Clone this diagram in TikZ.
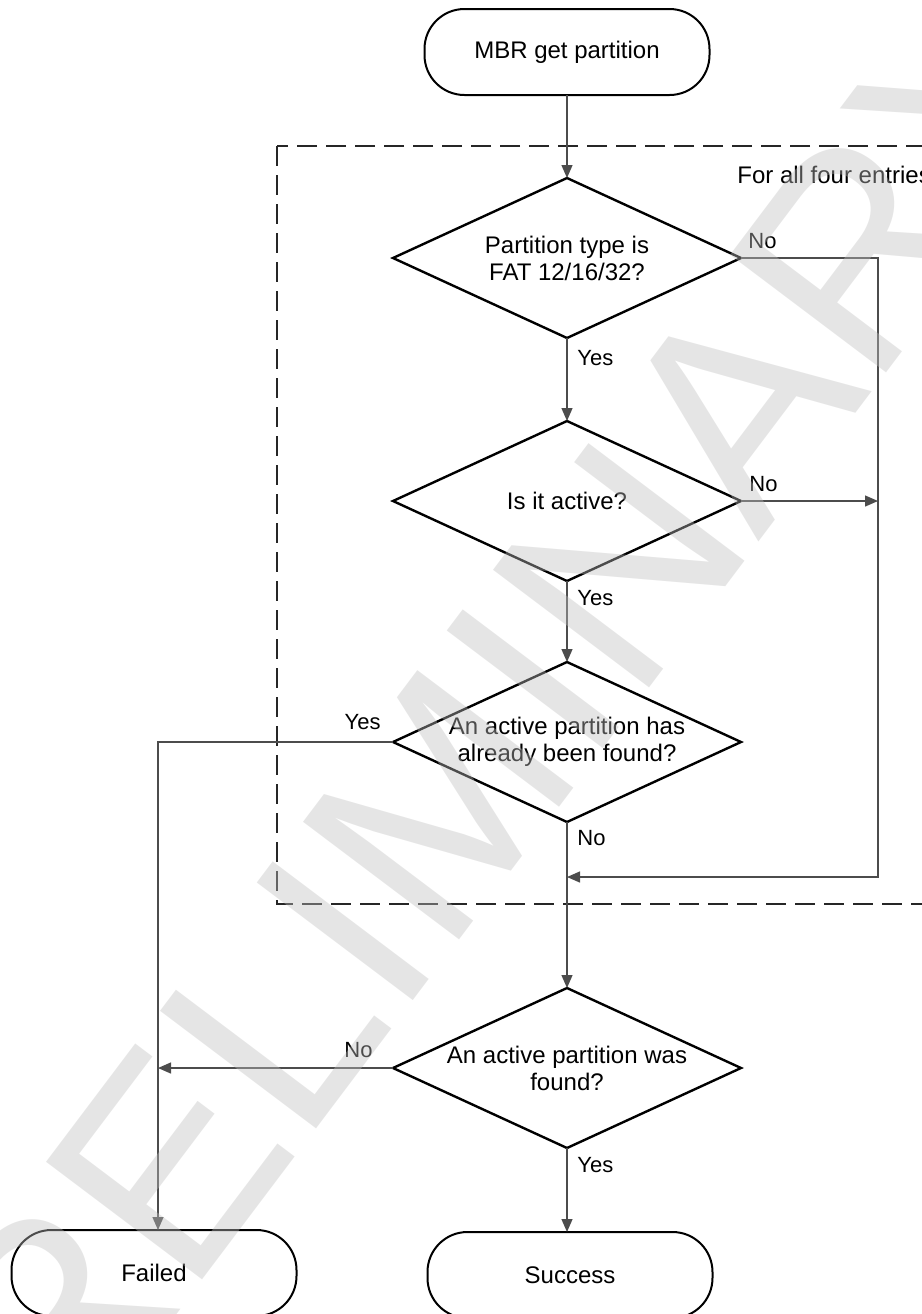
\documentclass[tikz,border=0pt]{standalone}
\usepackage{fontspec}
\setmainfont{Liberation Sans}
\newfontfamily\wmfont{Liberation Sans}
\usetikzlibrary{shapes.geometric,arrows.meta}
\begin{document}
\begin{tikzpicture}[x=0.5pt,y=-0.5pt,
  every node/.style={font=\fontsize{12}{13.5}\selectfont},
  term/.style={draw=black,line width=1pt,rounded corners=20pt,minimum width=142.5pt,minimum height=43pt,inner sep=0pt,outer sep=0pt},
  dia/.style={draw=black,line width=1.2pt,diamond,minimum width=174pt,minimum height=80pt,inner sep=0pt,outer sep=0pt},
  txt/.style={align=center,inner sep=0pt},
  lbl/.style={inner sep=0pt,font=\fontsize{11}{13}\selectfont},
  conn/.style={draw=black!70,line width=0.65pt},
  arr/.style={conn,-{Triangle[length=6.5pt,width=5.5pt]}},
  loopbox/.style={draw=black!85,line width=0.7pt,dash pattern=on 10pt off 4.5pt}
]
\useasboundingbox (0,0) rectangle (922,1314);
\clip (0,0) rectangle (922,1314);

% loop frame
\draw[loopbox] (277,146) rectangle (960,904);
\node[lbl,anchor=west,font=\fontsize{12}{13.5}\selectfont] (loopl) at (737,175) {For all four entries};

% nodes
\node[term] (start) at (567,52) {MBR get partition};
\node[dia] (d1) at (567,258) {};
\node[txt] (d1t) at (d1) {Partition type is\\FAT 12/16/32?};
\node[dia] (d2) at (567,501) {};
\node[txt] (d2t) at (d2) {Is it active?};
\node[dia] (d3) at (567,742) {};
\node[txt] (d3t) at (d3) {An active partition has\\already been found?};
\node[dia] (d4) at (567,1068) {};
\node[txt] (d4t) at (d4) {An active partition was\\found?};
\node[term] (failed) at (154,1273) {Failed};
\node[term] (success) at (570,1275) {Success};

% helper coordinates
\coordinate (rv1) at (878,258);
\coordinate (rv2) at (878,877);
\coordinate (join) at (567,877);
\coordinate (fl) at (158,742);

% connectors
\draw[arr] (start.south) -- (d1.north);
\draw[arr] (d1.south) -- (d2.north);
\draw[arr] (d2.south) -- (d3.north);
\draw[arr] (d3.south) -- (d4.north);
\draw[arr] (d4.south) -- (d4.south |- success.north);
\draw[arr] (d1.east) -- (rv1) -- (rv2) -- (join);
\draw[arr] (d2.east) -- (d2.east -| rv1);
\draw[arr] (d3.west) -- (fl) -- (fl |- failed.north);
\draw[arr] (d4.west) -- (d4.west -| fl);

% labels
\node[lbl,anchor=west] (l1n) at (748,241) {No};
\node[lbl,anchor=west] (l1y) at (577,358) {Yes};
\node[lbl,anchor=west] (l2n) at (749,484) {No};
\node[lbl,anchor=west] (l2y) at (577,598) {Yes};
\node[lbl,anchor=east] (l3y) at (381,722) {Yes};
\node[lbl,anchor=west] (l3n) at (577,838) {No};
\node[lbl,anchor=east] (l4n) at (373,1050) {No};
\node[lbl,anchor=west] (l4y) at (577,1165) {Yes};

% watermark
\node[anchor=base west,rotate=53,inner sep=0pt,text=black!25,text opacity=0.4,font=\wmfont\fontsize{142}{142}\selectfont] (wm) at (-49,1614) {PRELIMINARY};
\end{tikzpicture}
\end{document}
